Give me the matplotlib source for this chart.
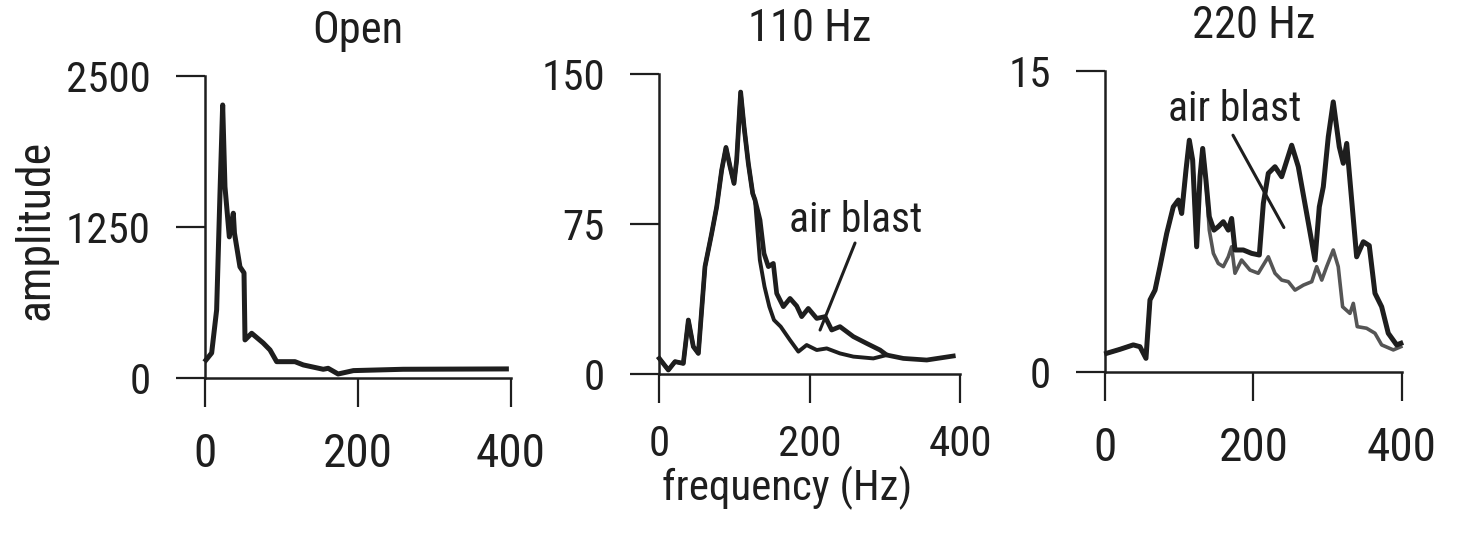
import matplotlib
matplotlib.use("Agg")
import matplotlib.pyplot as plt
from matplotlib import font_manager

# the scan uses a narrow sans; take a condensed face if one is installed
narrow = None
for e in font_manager.fontManager.ttflist:
    cond = str(e.stretch) in ('condensed', 'semi-condensed', 'extra-condensed') \
        or 'Narrow' in e.name or 'Condensed' in e.name
    if cond and e.style == 'normal' and e.weight in (400, 'normal', 'regular'):
        if narrow is None or 'Liberation' in e.name or 'Roboto' in e.name:
            narrow = e
if narrow is not None:
    font_manager.fontManager.addfont(narrow.fname)
    plt.rcParams['font.family'] = [narrow.name, 'Liberation Sans', 'DejaVu Sans']
    plt.rcParams['font.stretch'] = narrow.stretch
    scale = 1.0
else:
    plt.rcParams['font.family'] = ['Liberation Sans', 'DejaVu Sans']
    scale = 0.9

# Open
open_f = [1.3, 8.7, 15.2, 19.6, 23.1, 26.1, 31.8, 37, 38.5, 45.7, 51, 52.3, 61, 76, 85,
          93.7, 117.6, 128.5, 154.6, 161, 174, 194, 259, 394]
open_a = [149, 207, 563, 1530, 2260, 1583, 1168, 1364, 1200, 920, 870, 315, 370, 290, 232,
          135, 135, 108, 72, 80, 33, 61, 72, 75]

# 110 Hz
f110_common = [0.4, 12.4, 21.3, 32.3, 39, 45.6, 52.3, 61.1, 70, 76.7, 83.3, 89, 94.4, 99.7,
               103.2, 108.5, 113, 118.7, 124.5, 127.6]
a110_common = [7.8, 2, 6.2, 5.3, 27, 13.7, 10.3, 53.7, 70.3, 83.7, 102, 113.3, 103.7, 95.3,
               107, 141, 123.7, 105.3, 90.3, 87]
f110_air = [134.2, 139.5, 145.3, 151.9, 156.4, 165.2, 174.1, 183, 189.6, 198.4, 209.6, 220.6,
            229.5, 240.5, 258.3, 276, 293.7, 302.6, 324.7, 355.8, 391]
a110_air = [77, 60.3, 53.7, 55.3, 40.3, 33.7, 37.8, 34, 28.7, 32.8, 27.8, 28.7,
            22, 23.7, 18.7, 15.3, 12, 9.5, 7.8, 7, 9]
f110_no = [134, 140.2, 146.6, 152.8, 161.7, 174, 185.2, 196.2, 209.6, 222.9, 240.5, 258.3,
           284.8, 302.6]
a110_no = [57, 43.7, 33.7, 27, 23.7, 17, 11.2, 14.5, 12, 12.8, 10.3, 8.7, 7.8, 9.5]

# 220 Hz
f220_common = [2.2, 20.2, 38.1, 47.1, 55.2, 60.6, 67.4, 74.1, 83.1, 92, 98.8, 103.3, 109.1,
               113.6, 118.1, 123.5, 128, 131.6, 136]
a220_common = [0.93, 1.13, 1.35, 1.26, 0.68, 3.59, 4.08, 5.25, 6.9, 8.23, 8.57, 7.9, 10.06,
               11.55, 10.56, 6.24, 9.73, 11.14, 9.56]
f220_air = [140.5, 146.8, 152.6, 159.4, 166.1, 170.6, 175.1, 186.3, 197.6, 207.9, 213.3, 220,
            229, 238, 251.5, 260.4, 271.7, 282.9, 288.7, 294.1, 300.8, 307.5, 315.6, 321,
            325.6, 332.3, 339, 348, 356, 363.7, 372.7, 381.6, 392.9, 398.5]
a220_air = [7.74, 7.07, 7.24, 7.49, 7.07, 7.65, 6.08, 6.08, 5.91, 5.83, 8.4, 9.9,
            10.23, 9.73, 11.3, 10.23, 7.9, 5.58, 8.23, 9.23, 11.72, 13.46, 11.22, 10.4,
            11.39, 8.57, 5.74, 6.49, 6.3, 3.92, 3.25, 1.93, 1.35, 1.43]
f220_no = [140.5, 146, 152.6, 159.4, 166.1, 170.6, 175.1, 184, 195.3, 206.5, 220, 229, 238,
           247, 256, 267.3, 278.5, 285.2, 292, 298.6, 307.5, 314.2, 320.1, 330, 334.5,
           339.8, 352.4, 363.7, 372.7, 388.4, 398.5]
a220_no = [7.07, 5.91, 5.41, 5.25, 5.74, 6.24, 4.92, 5.58, 5.08, 4.92, 5.74, 4.92, 4.58,
           4.5, 4.08, 4.33, 4.5, 5.25, 4.58, 5.25, 6.08, 5.25, 3.25, 2.92, 3.42,
           2.26, 2.18, 1.93, 1.35, 1.1, 1.26]

titles = ["Open", "110 Hz", "220 Hz"]
ymax = [2500, 150, 15]
yticks = [[0, 1250, 2500], [0, 75, 150], [0, 15]]
xticks = [0, 200, 400]

fig = plt.figure(figsize=(14.57, 5.35), dpi=100)
boxes = [[0.1407, 0.2935, 0.2100, 0.5645],
         [0.4523, 0.3009, 0.2066, 0.5607],
         [0.7584, 0.3047, 0.2038, 0.5626]]
axes = [fig.add_axes(b) for b in boxes]
xlab_size = [34, 31, 34]

ink = '#1e1e1e'
for ax, t, ym, yt, xs in zip(axes, titles, ymax, yticks, xlab_size):
    ax.set_xlim(0, 400)
    ax.set_ylim(0, ym)
    ax.set_xticks(xticks)
    ax.set_yticks(yt)
    ax.set_xticklabels([str(v) for v in xticks], fontsize=xs * scale)
    ax.set_yticklabels([str(v) for v in yt], fontsize=31 * scale)
    for s in ['top', 'right']:
        ax.spines[s].set_visible(False)
    for s in ['left', 'bottom']:
        ax.spines[s].set_linewidth(1.8)
        ax.spines[s].set_color(ink)
    ax.tick_params(axis='both', direction='out', length=21, width=1.6, colors=ink)
    ax.tick_params(axis='x', pad=18)
    ax.tick_params(axis='y', pad=18)
    ax.set_title(t, fontsize=32 * scale, pad=24, color=ink)

ax1, ax2, ax3 = axes
ax2.tick_params(axis='x', pad=15)
ax1.plot(open_f, open_a, color=ink, lw=3.6, clip_on=False, solid_joinstyle='round')

ax2.plot(f110_common + f110_no, a110_common + a110_no, color=ink, lw=2.8, clip_on=False)
ax2.plot(f110_common + f110_air, a110_common + a110_air, color=ink, lw=3.4, clip_on=False)
ax2.text(261, 77, "air blast", fontsize=30 * scale, color=ink, ha='center', va='center')
ax2.annotate("", xy=(214, 22), xytext=(260.5, 65.5),
             arrowprops=dict(arrowstyle='-', color=ink, lw=2.2, shrinkA=0, shrinkB=0))

ax3.plot(f220_common + f220_no, a220_common + a220_no, color='#555555', lw=2.6,
         clip_on=False)
ax3.plot(f220_common + f220_air, a220_common + a220_air, color=ink, lw=3.6, clip_on=False)
ax3.text(175, 13.1, "air blast", fontsize=30 * scale, color=ink, ha='center', va='center')
ax3.annotate("", xy=(241, 7.2), xytext=(172.4, 11.8),
             arrowprops=dict(arrowstyle='-', color=ink, lw=2.2, shrinkA=0, shrinkB=0))

fig.text(36 / 1457, 1 - 230 / 535, "amplitude", fontsize=33 * scale, color=ink,
         rotation=90, ha='center', va='center')
fig.text(787 / 1457, 1 - 500 / 535, "frequency (Hz)", fontsize=31 * scale, color=ink,
         ha='center', va='baseline')

fig.savefig("out.png", dpi=100)
